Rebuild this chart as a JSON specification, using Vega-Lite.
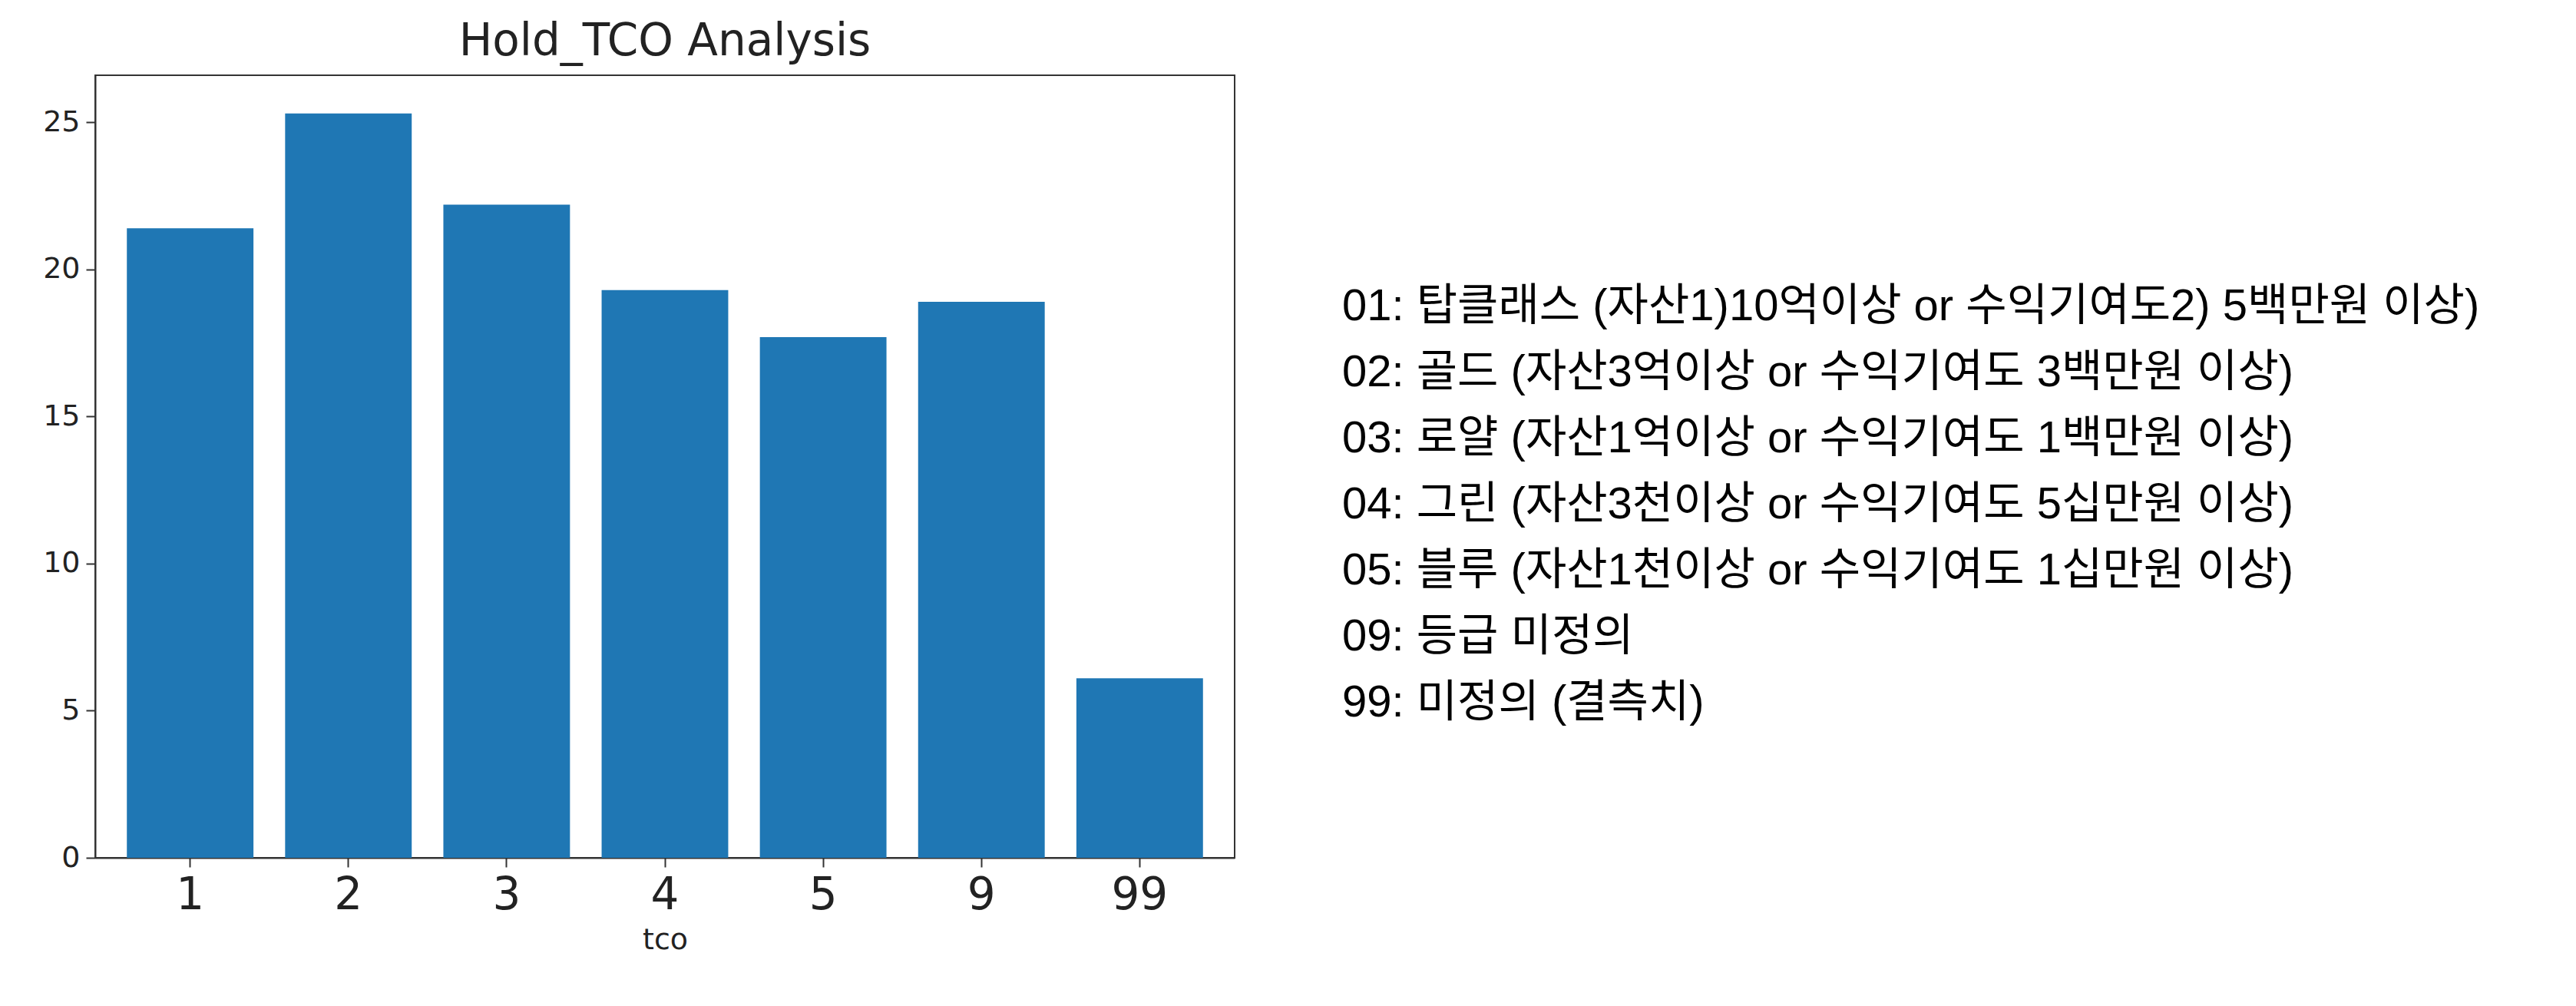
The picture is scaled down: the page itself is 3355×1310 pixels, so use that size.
{
  "$schema": "https://vega.github.io/schema/vega-lite/v6.json",
  "background": "white",
  "padding": {"left": 54, "top": 25, "right": 5, "bottom": 5},
  "config": {"view": {"stroke": null}, "font": "DejaVu Sans"},
  "spacing": 139,
  "hconcat": [
    {
      "title": {"text": "Hold_TCO Analysis", "fontSize": 58, "fontWeight": "normal", "color": "#222", "offset": 14},
      "width": 1484,
      "height": 1019,
      "view": {"stroke": "#333", "strokeWidth": 2},
      "data": {"values": [
        {"tco": "1", "value": 21.4},
        {"tco": "2", "value": 25.3},
        {"tco": "3", "value": 22.2},
        {"tco": "4", "value": 19.3},
        {"tco": "5", "value": 17.7},
        {"tco": "9", "value": 18.9},
        {"tco": "99", "value": 6.1}
      ]},
      "mark": {"type": "bar", "color": "#1f77b4"},
      "encoding": {
        "x": {"field": "tco", "type": "ordinal", "sort": null,
          "scale": {"paddingInner": 0.2, "paddingOuter": 0.2},
          "axis": {"labelAngle": 0, "labelFontSize": 58, "labelColor": "#222", "titleFontSize": 38, "titleFontWeight": "normal", "titleColor": "#222", "domainColor": "#333", "domainWidth": 2, "tickColor": "#333", "tickSize": 12, "tickWidth": 2, "labelPadding": 8, "titlePadding": 10}},
        "y": {"field": "value", "type": "quantitative", "title": null,
          "scale": {"domain": [0, 26.6], "nice": false},
          "axis": {"values": [0, 5, 10, 15, 20, 25], "grid": false, "labelFontSize": 38, "labelColor": "#222", "domainColor": "#333", "domainWidth": 2, "tickColor": "#333", "tickSize": 12, "tickWidth": 2, "labelPadding": 8}}
      }
    },
    {
      "width": 1560,
      "height": 1019,
      "data": {"values": [
        {"order": 1, "label": "01: 탑클래스 (자산1)10억이상 or 수익기여도2) 5백만원 이상)"},
        {"order": 2, "label": "02: 골드 (자산3억이상 or 수익기여도 3백만원 이상)"},
        {"order": 3, "label": "03: 로얄 (자산1억이상 or 수익기여도 1백만원 이상)"},
        {"order": 4, "label": "04: 그린 (자산3천이상 or 수익기여도 5십만원 이상)"},
        {"order": 5, "label": "05: 블루 (자산1천이상 or 수익기여도 1십만원 이상)"},
        {"order": 6, "label": "09: 등급 미정의"},
        {"order": 7, "label": "99: 미정의 (결측치)"}
      ]},
      "mark": {"type": "text", "align": "left", "baseline": "middle", "fontSize": 58, "font": "Liberation Sans, Noto Sans CJK KR", "color": "black"},
      "encoding": {
        "x": {"value": 0},
        "y": {"field": "order", "type": "quantitative", "scale": {"domain": [-2.51, 9.34], "reverse": true, "nice": false, "zero": false}, "axis": null},
        "text": {"field": "label"}
      }
    }
  ]
}
